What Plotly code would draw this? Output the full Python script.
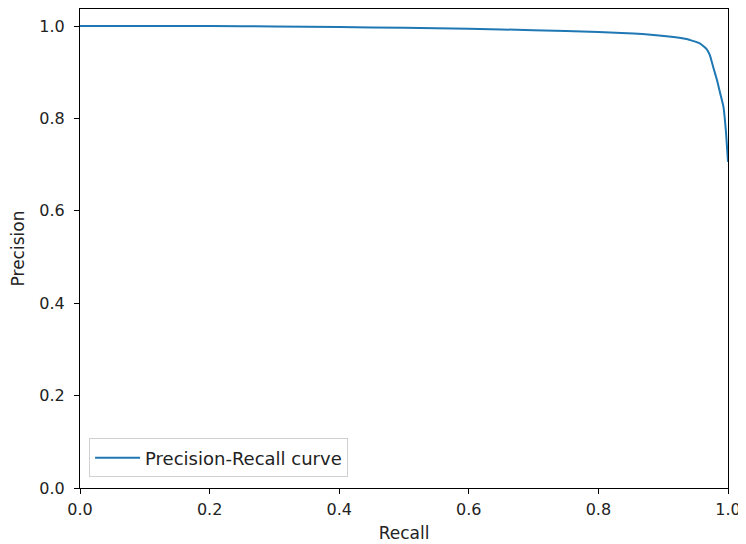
import plotly.graph_objects as go

recall = [0.0, 0.1, 0.2, 0.3, 0.4, 0.5, 0.6, 0.7, 0.8, 0.854, 0.905, 0.936, 0.957, 0.967, 0.972, 0.977, 0.983, 0.988, 0.993, 0.997, 1.0]
precision = [1.0, 1.0, 1.0, 0.999, 0.998, 0.996, 0.994, 0.991, 0.987, 0.984, 0.978, 0.972, 0.962, 0.950, 0.937, 0.912, 0.883, 0.854, 0.825, 0.768, 0.706]

x_ticks = [0.0, 0.2, 0.4, 0.6, 0.8, 1.0]
y_ticks = [0.0, 0.2, 0.4, 0.6, 0.8, 1.0]

FONT = "DejaVu Sans"

fig = go.Figure()
fig.add_trace(go.Scatter(x=recall, y=precision, mode="lines",
                         line=dict(color="#1f77b4", width=2, shape="spline", smoothing=0.4),
                         name="Precision-Recall curve"))

axis_common = dict(showline=True, linecolor="black", linewidth=1, mirror=True,
                   ticks="outside", ticklen=5, tickcolor="black", tickwidth=1,
                   showgrid=False, zeroline=False,
                   tickfont=dict(family=FONT, size=16, color="#222"),
                   title_font=dict(family=FONT, size=17, color="#222"))

fig.update_xaxes(range=[0, 1], tickvals=x_ticks, ticktext=[f"{v:.1f}" for v in x_ticks],
                 title_text="Recall", title_standoff=8, ticklabelstandoff=2, **axis_common)
fig.update_yaxes(range=[0, 1.0368], tickvals=y_ticks, ticktext=[f"{v:.1f}" for v in y_ticks],
                 title_text="Precision", title_standoff=12, ticklabelstandoff=6, **axis_common)

fig.update_layout(width=738, height=536, margin=dict(l=72, r=18, t=1, b=56, autoexpand=False),
                  plot_bgcolor="white", paper_bgcolor="white",
                  showlegend=True,
                  legend=dict(x=0.014, y=0.022, xanchor="left", yanchor="bottom",
                              itemwidth=45,
                              bgcolor="rgba(255,255,255,0.8)", bordercolor="#d0d0d0", borderwidth=1,
                              font=dict(family=FONT, size=18, color="#222")),
                  font=dict(family=FONT))

fig.write_html("out.html")
